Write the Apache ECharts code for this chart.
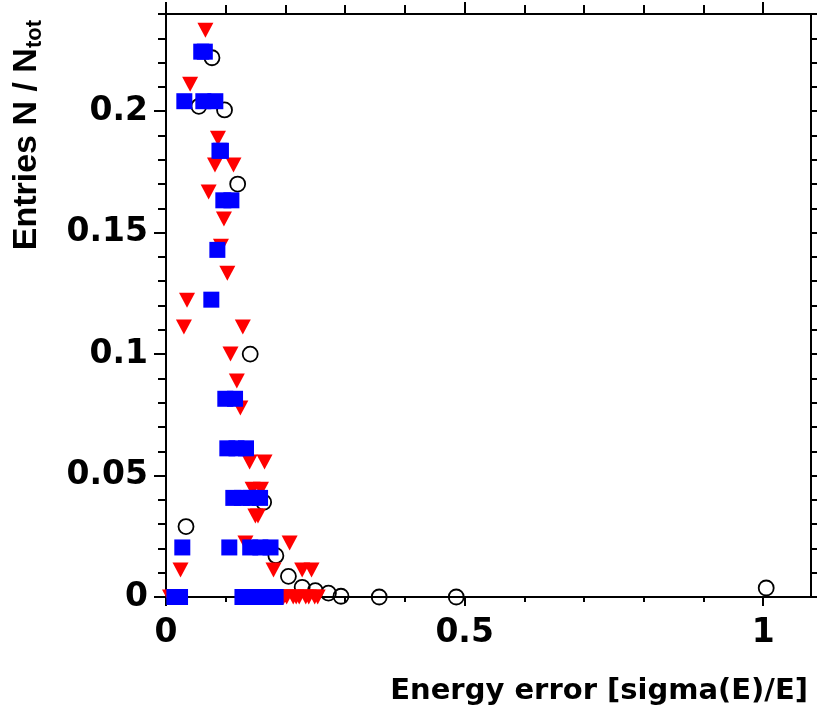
<!DOCTYPE html>
<html>
<head>
<meta charset="utf-8">
<script src="https://cdn.jsdelivr.net/npm/echarts@6/dist/echarts.min.js"></script>
<style>
  html, body { margin: 0; padding: 0; background: #fff; }
  #chart { width: 817px; height: 712px; }
</style>
</head>
<body>
<div id="chart"></div>
<script>
// Open circles (black)
const circleX = [0.0335, 0.055, 0.077, 0.098, 0.120, 0.141, 0.1635, 0.184, 0.205, 0.228, 0.250, 0.272, 0.293, 0.357, 0.486, 1.005];
const circleY = [0.029, 0.202, 0.222, 0.2005, 0.170, 0.100, 0.039, 0.017, 0.0085, 0.004, 0.0026, 0.0016, 0.0003, 0.0, 0.0, 0.0037];

// Downward triangles (red)
const triX = [0.066, 0.0404, 0.087, 0.082, 0.113, 0.0714, 0.097, 0.092, 0.1027, 0.0352, 0.030, 0.1286,
              0.108, 0.1186, 0.1245, 0.140, 0.165, 0.145, 0.159, 0.1496, 0.154, 0.133, 0.207,
              0.0243, 0.180, 0.228, 0.2437,
              0.0067, 0.0121, 0.0175, 0.165, 0.170, 0.176, 0.186, 0.192, 0.197, 0.202, 0.213,
              0.218, 0.223, 0.234, 0.239, 0.249, 0.254];
const triY = [0.2333, 0.2111, 0.1889, 0.1778, 0.1778, 0.1667, 0.1556, 0.1444, 0.1333, 0.1222, 0.1111, 0.1111,
              0.1, 0.0889, 0.0778, 0.0556, 0.0556, 0.0444, 0.0444, 0.0333, 0.0333, 0.0222, 0.0222,
              0.0111, 0.0111, 0.0111, 0.0111,
              0, 0, 0, 0, 0, 0, 0, 0, 0, 0, 0,
              0, 0, 0, 0, 0, 0];

// Filled squares (blue)
const sqX = [0.059, 0.065, 0.0307, 0.0625, 0.0826, 0.0895, 0.092, 0.096, 0.1095, 0.086, 0.0759,
             0.0993, 0.1156, 0.1027, 0.118, 0.134, 0.1127, 0.127, 0.142, 0.1575,
             0.0273, 0.106, 0.141, 0.158, 0.175,
             0.014, 0.0235, 0.128, 0.142, 0.156, 0.170, 0.1836];
const sqY = [0.2245, 0.2245, 0.2041, 0.2041, 0.2041, 0.1837, 0.1837, 0.1633, 0.1633, 0.1429, 0.1224,
             0.0816, 0.0816, 0.0612, 0.0612, 0.0612, 0.0408, 0.0408, 0.0408, 0.0408,
             0.0204, 0.0204, 0.0204, 0.0204, 0.0204,
             0, 0, 0, 0, 0, 0, 0];

// Axis ticks
const xMajorTicks = [0, 0.5, 1];
const xMinorTicks = [0.1, 0.2, 0.3, 0.4, 0.6, 0.7, 0.8, 0.9];
const yMajorTicks = [0, 0.05, 0.1, 0.15, 0.2];
const yMinorTicks = [0.01, 0.02, 0.03, 0.04, 0.06, 0.07, 0.08, 0.09, 0.11, 0.12, 0.13, 0.14,
                     0.16, 0.17, 0.18, 0.19, 0.21, 0.22, 0.23, 0.24];

const xTitle = 'Energy error [sigma(E)/E]';
const yTitleMain = 'Entries N / N';
const yTitleSub = 'tot';

const X_MIN = 0, X_MAX = 1.08, Y_MIN = 0, Y_MAX = 0.24;
const LABEL_FONT = 'DejaVu Sans';

function zip(xs, ys) { return xs.map((x, i) => [x, ys[i]]); }

function axis(dim, pos, ticks, tickLen, opts) {
  const o = opts || {};
  const a = {
    type: 'value',
    position: pos,
    min: dim === 'x' ? X_MIN : Y_MIN,
    max: dim === 'x' ? X_MAX : Y_MAX,
    splitLine: { show: false },
    axisLine: { show: !!o.line, onZero: false, lineStyle: { color: '#000', width: 2 } },
    axisTick: { show: true, inside: false, length: tickLen, customValues: ticks,
                lineStyle: { color: '#000', width: 2 } },
    axisLabel: { show: false },
    z: 0
  };
  if (o.labels) {
    a.axisLabel = {
      show: true, customValues: ticks, color: '#000',
      fontFamily: LABEL_FONT, fontWeight: 'bold', fontSize: 33,
      margin: o.margin
    };
  }
  return a;
}

const xAxes = [
  Object.assign(axis('x', 'bottom', xMajorTicks, 9, { line: true, labels: true, margin: 20 }), {
    name: xTitle,
    nameLocation: 'end',
    nameGap: -3,
    nameTextStyle: {
      fontFamily: LABEL_FONT, fontWeight: 'bold', fontSize: 29, color: '#000',
      align: 'right', verticalAlign: 'top', padding: [80, 0, 0, 0]
    }
  }),
  axis('x', 'bottom', xMinorTicks, 5),
  axis('x', 'top', xMajorTicks, 12, { line: true }),
  axis('x', 'top', xMinorTicks, 9)
];

const yAxes = [
  axis('y', 'left', yMajorTicks, 12, { line: true, labels: true, margin: 18 }),
  axis('y', 'left', yMinorTicks, 8),
  axis('y', 'right', yMajorTicks, 12, { line: true }),
  axis('y', 'right', yMinorTicks, 7)
];

const chart = echarts.init(document.getElementById('chart'), null, { renderer: 'canvas' });

chart.setOption({
  animation: false,
  backgroundColor: '#fff',
  grid: { left: 166, right: 6, top: 14, bottom: 115, containLabel: false, outerBoundsMode: 'none' },
  xAxis: xAxes,
  yAxis: yAxes,
  graphic: [{
    type: 'text',
    x: 10,
    y: 20,
    rotation: Math.PI / 2,
    style: {
      text: '{a|' + yTitleMain + '}{b|' + yTitleSub + '}',
      align: 'right',
      verticalAlign: 'top',
      fill: '#000',
      rich: {
        a: { fontFamily: 'Liberation Sans', fontWeight: 'bold', fontSize: 34, lineHeight: 34, verticalAlign: 'top', fill: '#000' },
        b: { fontFamily: 'Liberation Sans', fontWeight: 'bold', fontSize: 22, lineHeight: 36, verticalAlign: 'bottom', fill: '#000' }
      }
    }
  }],
  series: [
    {
      type: 'scatter', name: 'circles', data: zip(circleX, circleY),
      xAxisIndex: 0, yAxisIndex: 0, clip: false, z: 2,
      symbol: 'circle', symbolSize: 15,
      itemStyle: { color: 'rgba(0,0,0,0)', borderColor: '#000', borderWidth: 1.8, opacity: 1 }
    },
    {
      type: 'scatter', name: 'triangles', data: zip(triX, triY),
      xAxisIndex: 0, yAxisIndex: 0, clip: false, z: 3,
      symbol: 'path://M0,0 L2,0 L1,2 Z', symbolSize: [16, 15],
      itemStyle: { color: '#ff0000', opacity: 1 }
    },
    {
      type: 'scatter', name: 'squares', data: zip(sqX, sqY),
      xAxisIndex: 0, yAxisIndex: 0, clip: false, z: 4,
      symbol: 'rect', symbolSize: 16,
      itemStyle: { color: '#0000ff', opacity: 1 }
    }
  ]
});
</script>
</body>
</html>
